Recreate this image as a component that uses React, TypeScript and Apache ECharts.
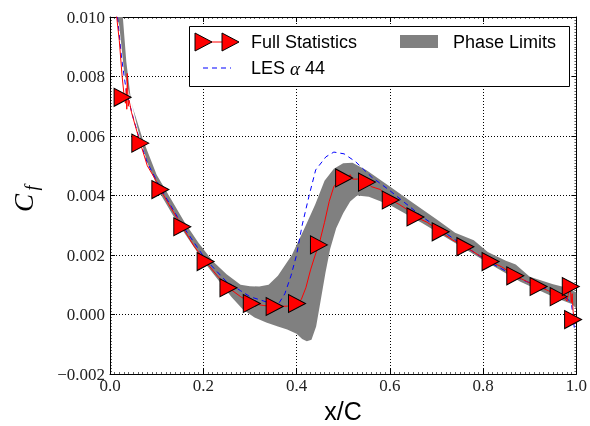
import React, { useEffect, useRef } from 'react';
import * as echarts from 'echarts';

// Full statistics (mean) line
const meanX = [0.013, 0.02, 0.026, 0.03, 0.033, 0.035, 0.036, 0.037, 0.039, 0.041, 0.046, 0.055, 0.065, 0.08, 0.095, 0.108, 0.13, 0.155, 0.18, 0.205, 0.23, 0.254, 0.28, 0.304, 0.33, 0.353, 0.38, 0.401, 0.41, 0.42, 0.43, 0.44, 0.448, 0.46, 0.47, 0.48, 0.49, 0.502, 0.51, 0.515, 0.52, 0.53, 0.54, 0.551, 0.56, 0.57, 0.58, 0.59, 0.602, 0.62, 0.64, 0.655, 0.68, 0.709, 0.735, 0.762, 0.79, 0.816, 0.84, 0.869, 0.895, 0.919, 0.94, 0.962, 0.975, 0.98, 0.984, 0.987, 0.989, 0.991, 0.993, 0.996, 0.998];
const meanY = [0.0102, 0.0092, 0.008, 0.0074, 0.0071, 0.0076, 0.0069, 0.0081, 0.0070, 0.0072, 0.0068, 0.0063, 0.00576, 0.0050, 0.0046, 0.0042, 0.0036, 0.00295, 0.0023, 0.00178, 0.0013, 0.0009, 0.0006, 0.00037, 0.0003, 0.00027, 0.00028, 0.00037, 0.0005, 0.0009, 0.0015, 0.002, 0.00234, 0.0031, 0.0038, 0.0043, 0.0045, 0.00459, 0.0046, 0.0047, 0.00455, 0.00455, 0.0046, 0.00445, 0.0043, 0.00425, 0.0042, 0.004, 0.00385, 0.0037, 0.0035, 0.00328, 0.0031, 0.00278, 0.0025, 0.00228, 0.002, 0.00178, 0.0016, 0.0013, 0.0011, 0.00094, 0.0008, 0.0006, 0.00055, 0.00045, 0.0008, 0.00094, 0.0004, 0.0007, 0.0001, -0.0002, -0.0003];

// Markers of the full statistics
const markX = [0.027, 0.065, 0.108, 0.155, 0.205, 0.254, 0.304, 0.353, 0.401, 0.448, 0.502, 0.551, 0.602, 0.655, 0.709, 0.762, 0.816, 0.869, 0.919, 0.962, 0.988, 0.993];
const markY = [0.0073, 0.00576, 0.0042, 0.00295, 0.00178, 0.0009, 0.00037, 0.00027, 0.00037, 0.00234, 0.00459, 0.00445, 0.00385, 0.00328, 0.00278, 0.00228, 0.00178, 0.0013, 0.00094, 0.0006, 0.00094, -0.00017];

// LES alpha 44
const lesX = [0.014, 0.025, 0.035, 0.05, 0.065, 0.08, 0.11, 0.155, 0.205, 0.25, 0.28, 0.3, 0.33, 0.35, 0.363, 0.375, 0.388, 0.4, 0.412, 0.427, 0.441, 0.463, 0.48, 0.502, 0.527, 0.561, 0.598, 0.669, 0.74, 0.811, 0.883, 0.954, 0.983, 0.99, 0.996];
const lesY = [0.0103, 0.0086, 0.0075, 0.0066, 0.0058, 0.0051, 0.0042, 0.003, 0.00185, 0.0011, 0.0008, 0.0006, 0.00045, 0.00035, 0.0004, 0.0007, 0.0013, 0.002, 0.003, 0.004, 0.00486, 0.0053, 0.00546, 0.0054, 0.00513, 0.00462, 0.00419, 0.00329, 0.00251, 0.00178, 0.00117, 0.00074, 0.0005, 0.0003, -0.0005];

// Phase limits band
const upperX = [0.008, 0.02, 0.03, 0.04, 0.05, 0.07, 0.1, 0.13, 0.16, 0.19, 0.22, 0.25, 0.28, 0.3, 0.32, 0.34, 0.36, 0.39, 0.42, 0.44, 0.46, 0.48, 0.5, 0.52, 0.55, 0.6, 0.65, 0.7, 0.74, 0.78, 0.81, 0.85, 0.87, 0.9, 0.95, 0.98, 1.0];
const upperY = [0.0104, 0.0097, 0.0082, 0.0075, 0.0069, 0.0059, 0.0047, 0.0039, 0.0031, 0.0024, 0.0018, 0.00135, 0.001, 0.00095, 0.00094, 0.001, 0.0013, 0.002, 0.003, 0.0037, 0.0045, 0.0049, 0.00508, 0.0051, 0.00485, 0.0043, 0.00375, 0.0032, 0.00275, 0.0025, 0.0021, 0.0018, 0.00168, 0.00127, 0.00102, 0.0009, 0.00074];
const lowerX = [0.027, 0.035, 0.045, 0.06, 0.08, 0.11, 0.14, 0.17, 0.2, 0.23, 0.26, 0.285, 0.31, 0.335, 0.36, 0.38, 0.4, 0.412, 0.422, 0.432, 0.442, 0.452, 0.462, 0.472, 0.485, 0.5, 0.515, 0.53, 0.555, 0.6, 0.67, 0.74, 0.81, 0.88, 0.95, 0.99, 1.0];
const lowerY = [0.0101, 0.0085, 0.0072, 0.0062, 0.0051, 0.004, 0.0032, 0.0025, 0.0018, 0.0012, 0.0006, 0.00017, -0.0001, -0.00027, -0.0004, -0.0005, -0.00065, -0.00082, -0.0009, -0.00085, -0.0004, 0.0005, 0.0014, 0.0022, 0.0029, 0.0034, 0.0038, 0.004, 0.00396, 0.00368, 0.00307, 0.0024, 0.00174, 0.0011, 0.0006, 0.00035, 0.0002];

const LABEL_FONT = 'Liberation Serif';
const SANS = 'Liberation Sans';

export default function App() {
  const ref = useRef<HTMLDivElement>(null);
  useEffect(() => {
    const chart = echarts.init(ref.current!, null, { renderer: 'svg' });
    const zip = (xs: number[], ys: number[]) => xs.map((x, i) => [x, ys[i]]);
    const fmtY = (v: number) => (v < 0 ? '\u2212' + Math.abs(v).toFixed(3) : v.toFixed(3));
    const tickCommon = {
      axisLine: { show: true, onZero: false, lineStyle: { color: '#000', width: 1 } },
      axisTick: { show: true, inside: true, length: 5, lineStyle: { color: '#000', width: 1 } },
      minorTick: { show: true, splitNumber: 20, length: 2, lineStyle: { color: '#000', width: 0.6 } },
    };
    const option: any = {
      animation: false,
      grid: { left: 110, right: 12, top: 17, bottom: 52, show: false },
      xAxis: [
        {
          type: 'value', min: 0, max: 1, interval: 0.2, position: 'bottom',
          ...tickCommon,
          axisLabel: { fontFamily: LABEL_FONT, fontSize: 17, color: '#222', margin: 3, formatter: (v: number) => v.toFixed(1) },
          splitLine: { show: true, lineStyle: { color: '#000', type: [1, 2], width: 1 } },
        },
        {
          type: 'value', min: 0, max: 1, interval: 0.2, position: 'top',
          ...tickCommon,
          axisLabel: { show: false },
          splitLine: { show: false },
        },
      ],
      yAxis: [
        {
          type: 'value', min: -0.002, max: 0.01, interval: 0.002, position: 'left',
          ...tickCommon,
          axisLabel: { fontFamily: LABEL_FONT, fontSize: 17, color: '#222', margin: 5, formatter: fmtY },
          splitLine: { show: true, lineStyle: { color: '#000', type: [1, 2], width: 1 } },
        },
        {
          type: 'value', min: -0.002, max: 0.01, interval: 0.002, position: 'right',
          ...tickCommon,
          axisLabel: { show: false },
          splitLine: { show: false },
        },
      ],
      series: [
        {
          type: 'custom',
          name: 'Phase Limits',
          clip: true,
          z: 1,
          data: [[0.5, 0.004]],
          renderItem: (params: any, api: any) => {
            const pts: number[][] = [];
            for (let i = 0; i < upperX.length; i++) pts.push(api.coord([upperX[i], upperY[i]]));
            for (let i = lowerX.length - 1; i >= 0; i--) pts.push(api.coord([lowerX[i], lowerY[i]]));
            return { type: 'polygon', shape: { points: pts }, style: { fill: '#808080', stroke: 'none' } };
          },
        },
        {
          type: 'line', name: 'LES', data: zip(lesX, lesY), showSymbol: false, z: 3,
          lineStyle: { color: '#0000ff', width: 1, type: [5, 4] },
        },
        {
          type: 'line', name: 'Full Statistics', data: zip(meanX, meanY), showSymbol: false, z: 4,
          lineStyle: { color: '#ff0000', width: 1 },
        },
        {
          type: 'scatter', name: 'markers', data: zip(markX, markY), z: 5,
          symbol: 'triangle', symbolSize: [18, 17], symbolRotate: -90,
          itemStyle: { color: '#ff0000', borderColor: '#000', borderWidth: 1, opacity: 1 },
        },
      ],
      graphic: [
        { type: 'rect', z: 100, shape: { x: 189.5, y: 26.5, width: 380, height: 60 }, style: { fill: '#fff', stroke: '#000', lineWidth: 1 } },
        { type: 'line', z: 101, shape: { x1: 203, y1: 42, x2: 230, y2: 42 }, style: { stroke: '#ff0000', lineWidth: 1 } },
        { type: 'polygon', z: 102, shape: { points: [[195, 33], [212, 42], [195, 51]] }, style: { fill: '#ff0000', stroke: '#000', lineWidth: 1 } },
        { type: 'polygon', z: 102, shape: { points: [[222, 33], [239, 42], [222, 51]] }, style: { fill: '#ff0000', stroke: '#000', lineWidth: 1 } },
        { type: 'text', z: 102, x: 251, y: 42, style: { text: 'Full Statistics', fontFamily: SANS, fontSize: 18, fill: '#000', verticalAlign: 'middle' } },
        { type: 'rect', z: 102, shape: { x: 400, y: 35, width: 38, height: 13 }, style: { fill: '#808080' } },
        { type: 'text', z: 102, x: 453, y: 42, style: { text: 'Phase Limits', fontFamily: SANS, fontSize: 18, fill: '#000', verticalAlign: 'middle' } },
        { type: 'line', z: 101, shape: { x1: 203, y1: 68, x2: 231, y2: 68 }, style: { stroke: '#0000ff', lineWidth: 1, lineDash: [5, 4] } },
        {
          type: 'text', z: 102, x: 251, y: 68,
          style: {
            text: '{s|LES }{a|\u03b1}{s| 44}', verticalAlign: 'middle',
            rich: {
              s: { fontFamily: SANS, fontSize: 18, fill: '#000' },
              a: { fontFamily: LABEL_FONT, fontStyle: 'italic', fontSize: 19, fill: '#000' },
            },
          },
        },
        { type: 'text', x: 24, y: 203, rotation: Math.PI / 2, style: { text: 'C', fontFamily: LABEL_FONT, fontStyle: 'italic', fontSize: 27, fill: '#000', align: 'center', verticalAlign: 'middle' } },
        { type: 'text', x: 32, y: 188, rotation: Math.PI / 2, style: { text: 'f', fontFamily: LABEL_FONT, fontStyle: 'italic', fontSize: 18, fill: '#000', align: 'center', verticalAlign: 'middle' } },
        { type: 'text', x: 343, y: 411, style: { text: 'x/C', fontFamily: SANS, fontSize: 25, fill: '#000', align: 'center', verticalAlign: 'middle' } },
      ],
    };
    chart.setOption(option);
    return () => chart.dispose();
  }, []);
  return <div ref={ref} style={{ position: 'fixed', left: 0, top: 0, width: 590, height: 426 }} />;
}
